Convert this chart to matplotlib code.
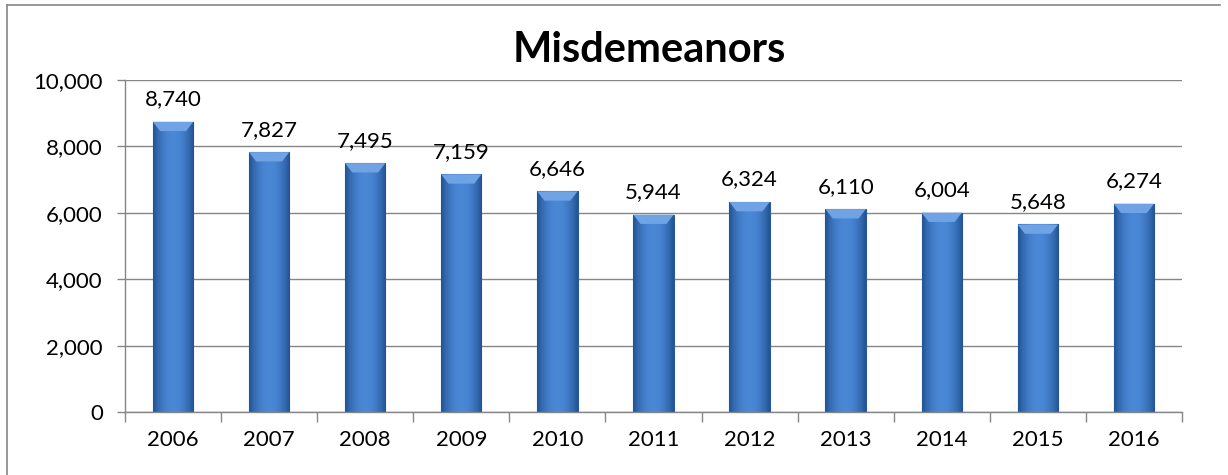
import numpy as np
import matplotlib

matplotlib.use("Agg")
import matplotlib.pyplot as plt
from matplotlib.lines import Line2D

years = ["2006", "2007", "2008", "2009", "2010", "2011", "2012", "2013", "2014", "2015", "2016"]
counts = [8740, 7827, 7495, 7159, 6646, 5944, 6324, 6110, 6004, 5648, 6274]
y_ticks = [0, 2000, 4000, 6000, 8000, 10000]

plt.rcParams["font.family"] = ["Lato", "DejaVu Sans"]

fig = plt.figure(figsize=(12.28, 4.75), dpi=100)
ax = fig.add_axes([0.1018, 0.1326, 0.8607, 0.699])

x = np.arange(len(years))
bars = ax.bar(x, counts, width=0.42, color="#3B76C2", edgecolor="#2A5A99", linewidth=0.8, zorder=2)

# horizontal shading inside each bar
grad = np.linspace(0, 1, 64)
shade = 1 - 0.55 * (2 * grad - 1) ** 2
grad_img = np.vstack([shade, shade])
cmap = matplotlib.colors.LinearSegmentedColormap.from_list("bar", ["#1F4F8F", "#4A88D6"])
for b in bars:
    bx, bw, bh = b.get_x(), b.get_width(), b.get_height()
    im = ax.imshow(grad_img, extent=[bx, bx + bw, 0, bh], aspect="auto", cmap=cmap,
                   vmin=0.4, vmax=1.0, zorder=2.5, origin="lower")
    im.set_clip_path(b)
    # bevel at the top
    ax.fill([bx, bx + bw, bx + bw * 0.82, bx + bw * 0.18], [bh, bh, bh - 280, bh - 280],
            color="#6FA3E4", zorder=2.6, lw=0)

for xi, v in zip(x, counts):
    ax.annotate(f"{v:,}", (xi, v), xytext=(0, 9), textcoords="offset points",
                ha="center", va="bottom", fontsize=16)

ax.set_xlim(-0.5, len(years) - 0.5)
ax.set_ylim(0, 10000)
ax.set_yticks(y_ticks)
ax.set_yticklabels([f"{t:,}" for t in y_ticks], fontsize=16)
ax.set_xticks(x)
ax.set_xticklabels(years, fontsize=16)
ax.set_xticks(np.arange(-0.5, len(years)), minor=True)
ax.tick_params(axis="x", which="major", length=0, pad=13)
ax.tick_params(axis="x", which="minor", length=7, color="#868686", width=1)
ax.tick_params(axis="y", length=6, color="#868686", width=1, pad=10)
ax.grid(axis="y", color="#868686", linewidth=1, zorder=0)

for side in ["top", "right"]:
    ax.spines[side].set_visible(False)
for side in ["left", "bottom"]:
    ax.spines[side].set_color("#868686")
    ax.spines[side].set_linewidth(1)

fig.text(0.529, 0.895, "Misdemeanors", ha="center", va="center", fontsize=30, fontweight="bold")

# chart frame
fig.add_artist(Line2D([7 / 1228, 7 / 1228], [0, 1 - 5 / 475], color="#868686", lw=1.2))
fig.add_artist(Line2D([7 / 1228, 1220 / 1228], [1 - 5 / 475, 1 - 5 / 475], color="#868686", lw=1.2))

fig.savefig("out.png", dpi=100)
